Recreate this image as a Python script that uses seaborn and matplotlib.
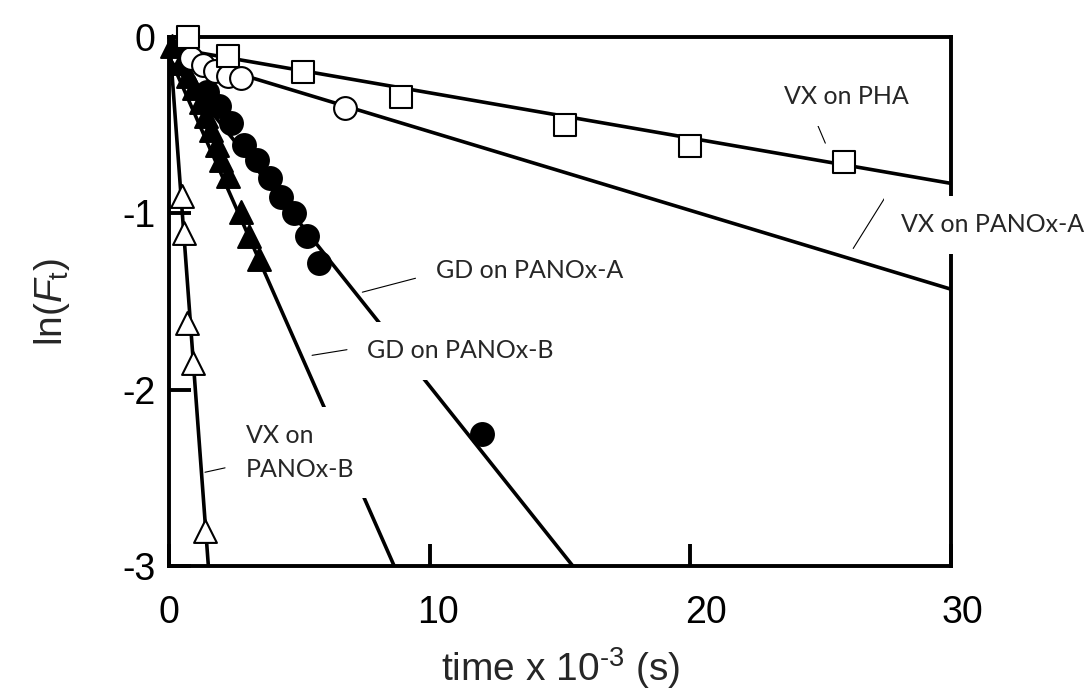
import matplotlib

matplotlib.use("Agg")

import matplotlib.pyplot as plt
import matplotlib.transforms as mtransforms
import pandas as pd
import seaborn as sns


# VX on PHA (open squares)
pha_t = [0.73, 2.25, 5.15, 8.9, 15.2, 20.0, 25.9]
pha_ln = [0.0, -0.11, -0.20, -0.34, -0.50, -0.62, -0.71]
pha_fit_t = [0, 30]
pha_fit_ln = [-0.06, -0.83]

# VX on PANOx-A (open circles)
vxa_t = [0.85, 1.3, 1.75, 2.25, 2.75, 6.75]
vxa_ln = [-0.12, -0.16, -0.19, -0.22, -0.23, -0.40]
vxa_fit_t = [0, 30]
vxa_fit_ln = [-0.09, -1.43]

# GD on PANOx-A (filled circles)
gda_t = [1.45, 1.9, 2.35, 2.85, 3.35, 3.85, 4.3, 4.8, 5.3, 5.75, 12.0]
gda_ln = [-0.31, -0.39, -0.49, -0.61, -0.70, -0.80, -0.91, -1.0, -1.13, -1.28, -2.25]
gda_fit_t = [0, 17]
gda_fit_ln = [-0.125, -3.28]

# GD on PANOx-B (filled triangles)
gdb_t = [0.1, 0.45, 0.7, 0.95, 1.2, 1.4, 1.6, 1.85, 2.0, 2.25, 2.75, 3.05, 3.45]
gdb_ln = [-0.05, -0.15, -0.22, -0.29, -0.37, -0.45, -0.53, -0.61, -0.70, -0.79, -0.99, -1.13, -1.26]
gdb_fit_t = [0, 9.5]
gdb_fit_ln = [-0.11, -3.29]

# VX on PANOx-B (open triangles)
vxb_t = [0.48, 0.57, 0.67, 0.92, 1.37]
vxb_ln = [-0.90, -1.11, -1.62, -1.85, -2.80]
vxb_fit_t = [0, 1.6]
vxb_fit_ln = [0.0, -3.2]

x_ticks = [0, 10, 20, 30]
y_ticks = [0, -1, -2, -3]

# label text, anchor, leader line start/end
labels = [
    ("VX on PHA", (23.6, -0.34), (24.87, -0.494), (25.18, -0.602)),
    ("VX on PANOx-A", (28.1, -1.066), (26.25, -1.199), (27.45, -0.915)),
    ("GD on PANOx-A", (10.22, -1.326), (7.41, -1.447), (9.45, -1.368)),
    ("GD on PANOx-B", (7.6, -1.78), (5.48, -1.805), (6.82, -1.773)),
    ("VX on\nPANOx-B", (2.95, -2.355), (1.37, -2.468), (2.14, -2.443)),
]

# the original x tick labels sit slightly right of their ticks (pixels)
x_label_shift = [0, 8, 16, 12]


def main():
    sns.set_theme(style="white")
    plt.rcParams["font.family"] = ["Liberation Sans", "DejaVu Sans"]
    plt.rcParams["mathtext.fontset"] = "custom"
    plt.rcParams["mathtext.rm"] = "Liberation Sans"
    plt.rcParams["mathtext.it"] = "Liberation Sans:italic"
    plt.rcParams["axes.unicode_minus"] = False

    fig = plt.figure(figsize=(10.88, 6.98), dpi=100)
    ax = fig.add_axes([0.1556, 0.189, 0.7184, 0.758])

    fit_lines = [
        (pha_fit_t, pha_fit_ln),
        (vxa_fit_t, vxa_fit_ln),
        (gda_fit_t, gda_fit_ln),
        (gdb_fit_t, gdb_fit_ln),
        (vxb_fit_t, vxb_fit_ln),
    ]
    for t, ln in fit_lines:
        sns.lineplot(x=t, y=ln, color="black", linewidth=2.6, ax=ax, zorder=2)

    series = [
        (gdb_t, gdb_ln, "^", "black"),
        (gda_t, gda_ln, "o", "black"),
        (vxb_t, vxb_ln, "^", "white"),
        (vxa_t, vxa_ln, "o", "white"),
        (pha_t, pha_ln, "s", "white"),
    ]
    for t, ln, marker, face in series:
        df = pd.DataFrame({"t": t, "ln": ln})
        sns.scatterplot(data=df, x="t", y="ln", marker=marker, s=270,
                        facecolor=face, edgecolor="black", linewidth=1.5,
                        ax=ax, zorder=5.5, clip_on=False)

    for text, (tx, ty), (x0, y0), (x1, y1) in labels:
        ax.plot([x0, x1], [y0, y1], color="black", linewidth=0.8, zorder=2)
        ax.text(tx, ty, text, family=["Lato", "DejaVu Sans"], fontsize=18,
                ha="left", va="center", linespacing=1.55, zorder=6, clip_on=False,
                bbox=dict(facecolor="white", edgecolor="none", boxstyle="square,pad=0.7"))

    ax.set_xlim(0, 30)
    ax.set_ylim(-3, 0)
    ax.set_xticks(x_ticks)
    ax.set_xticklabels([str(v) for v in x_ticks])
    ax.set_yticks(y_ticks)
    ax.set_yticklabels([str(v) for v in y_ticks])
    ax.tick_params(axis="both", direction="in", length=16, width=2.8,
                   labelsize=27, bottom=True, left=True, top=False, right=False,
                   colors="black")
    ax.tick_params(axis="x", pad=21)
    ax.tick_params(axis="y", pad=10)
    for lbl, dx in zip(ax.get_xticklabels(), x_label_shift):
        shift = mtransforms.ScaledTranslation(dx / 100, 0, fig.dpi_scale_trans)
        lbl.set_transform(lbl.get_transform() + shift)
    for spine in ax.spines.values():
        spine.set_linewidth(2.8)
        spine.set_color("black")
        spine.set_zorder(5)

    ax.set_xlabel(r"time x 10$^{\text{-3}}$ (s)", fontsize=28, labelpad=10)
    ax.set_ylabel(r"ln($\mathit{F}_{\mathrm{t}}$)", fontsize=28, labelpad=36)
    ax.grid(False)

    fig.savefig("out.png", dpi=100)
    plt.close(fig)


if __name__ == "__main__":
    main()
